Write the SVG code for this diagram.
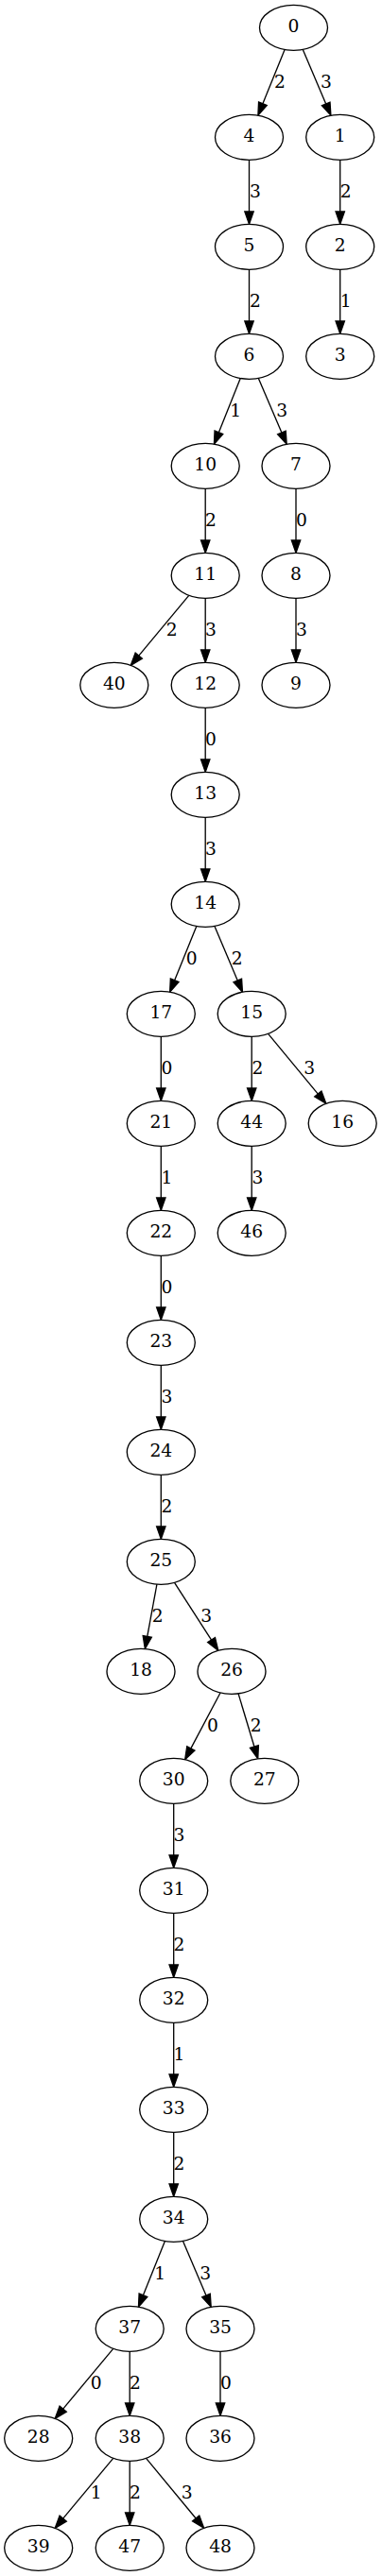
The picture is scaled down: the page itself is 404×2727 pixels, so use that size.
<svg xmlns="http://www.w3.org/2000/svg" width="404" height="2727" viewBox="0 0 404 2727">
<style>
.node ellipse{fill:#fff;stroke:#000;stroke-width:1.33}
text{font-family:"DejaVu Serif","Liberation Serif",serif;font-size:18.67px;text-anchor:middle;fill:#000}
.edges line{stroke:#000;stroke-width:1.33;marker-end:url(#arr)}
</style>
<defs>
<marker id="arr" markerUnits="userSpaceOnUse" orient="auto" refX="0" refY="0" markerWidth="16" markerHeight="12" overflow="visible">
<path d="M0,-4.67 L13.33,0 L0,4.67 Z" fill="#000" stroke="#000" stroke-width="1.33"/>
</marker>
</defs>
<rect width="404" height="2727" fill="#fff"/>
<g class="edges" id="edges">
<line x1="301.11" y1="52.50" x2="277.90" y2="109.81"/>
<line x1="320.30" y1="52.42" x2="344.70" y2="109.97"/>
<line x1="263.5" y1="169.33" x2="263.5" y2="224"/>
<line x1="359.7" y1="169.33" x2="359.7" y2="224"/>
<line x1="263.5" y1="285.33" x2="263.5" y2="340"/>
<line x1="359.7" y1="285.33" x2="359.7" y2="340"/>
<line x1="254.24" y1="400.52" x2="231.40" y2="457.76"/>
<line x1="273.35" y1="400.41" x2="297.92" y2="457.99"/>
<line x1="217.2" y1="517.33" x2="217.2" y2="572"/>
<line x1="313" y1="517.33" x2="313" y2="572"/>
<line x1="199.75" y1="630.32" x2="146.77" y2="694.09"/>
<line x1="217.2" y1="633.33" x2="217.2" y2="688"/>
<line x1="313" y1="633.33" x2="313" y2="688"/>
<line x1="217.2" y1="749.33" x2="217.2" y2="804"/>
<line x1="217.2" y1="865.33" x2="217.2" y2="920"/>
<line x1="207.83" y1="980.50" x2="184.67" y2="1037.80"/>
<line x1="226.96" y1="980.43" x2="251.25" y2="1037.95"/>
<line x1="170.3" y1="1097.33" x2="170.3" y2="1152"/>
<line x1="266.2" y1="1097.33" x2="266.2" y2="1152"/>
<line x1="283.59" y1="1094.34" x2="336.31" y2="1158.05"/>
<line x1="170.3" y1="1213.33" x2="170.3" y2="1268"/>
<line x1="266.2" y1="1213.33" x2="266.2" y2="1268"/>
<line x1="170.3" y1="1329.33" x2="170.3" y2="1384"/>
<line x1="170.3" y1="1445.33" x2="170.3" y2="1500"/>
<line x1="170.3" y1="1561.33" x2="170.3" y2="1616"/>
<line x1="165.93" y1="1677.15" x2="155.78" y2="1732.40"/>
<line x1="184.50" y1="1675.38" x2="223.58" y2="1736.07"/>
<line x1="233.04" y1="1791.97" x2="201.89" y2="1850.91"/>
<line x1="252.06" y1="1792.86" x2="268.91" y2="1849.03"/>
<line x1="183.7" y1="1909.33" x2="183.7" y2="1964"/>
<line x1="183.7" y1="2025.33" x2="183.7" y2="2080"/>
<line x1="183.7" y1="2141.33" x2="183.7" y2="2196"/>
<line x1="183.7" y1="2257.33" x2="183.7" y2="2312"/>
<line x1="174.41" y1="2372.52" x2="151.45" y2="2429.77"/>
<line x1="193.51" y1="2372.42" x2="217.98" y2="2429.97"/>
<line x1="119.74" y1="2486.32" x2="66.69" y2="2550.09"/>
<line x1="137.2" y1="2489.33" x2="137.2" y2="2544"/>
<line x1="233" y1="2489.33" x2="233" y2="2544"/>
<line x1="119.74" y1="2602.32" x2="66.69" y2="2666.09"/>
<line x1="137.2" y1="2605.33" x2="137.2" y2="2660"/>
<line x1="154.56" y1="2602.35" x2="207.15" y2="2666.03"/>
<g id="edge-labels">
<text x="296" y="92.6">2</text>
<text x="345" y="92.6">3</text>
<text x="270" y="208.6">3</text>
<text x="365.7" y="208.6">2</text>
<text x="270" y="324.6">2</text>
<text x="365.7" y="324.6">1</text>
<text x="249.3" y="440.6">1</text>
<text x="298.3" y="440.6">3</text>
<text x="223" y="556.6">2</text>
<text x="319" y="556.6">0</text>
<text x="181.7" y="672.6">2</text>
<text x="223" y="672.6">3</text>
<text x="319" y="672.6">3</text>
<text x="223" y="788.6">0</text>
<text x="223" y="904.6">3</text>
<text x="202.7" y="1020.6">0</text>
<text x="250.7" y="1020.6">2</text>
<text x="176.5" y="1136.6">0</text>
<text x="272.5" y="1136.6">2</text>
<text x="327.3" y="1136.6">3</text>
<text x="176.5" y="1252.6">1</text>
<text x="272.5" y="1252.6">3</text>
<text x="176.5" y="1368.6">0</text>
<text x="176.5" y="1484.6">3</text>
<text x="176.5" y="1600.6">2</text>
<text x="166.7" y="1716.6">2</text>
<text x="218.3" y="1716.6">3</text>
<text x="225" y="1832.6">0</text>
<text x="270.7" y="1832.6">2</text>
<text x="189.5" y="1948.6">3</text>
<text x="189.5" y="2064.6">2</text>
<text x="189.5" y="2180.6">1</text>
<text x="189.5" y="2296.6">2</text>
<text x="169.3" y="2412.6">1</text>
<text x="217.3" y="2412.6">3</text>
<text x="101.7" y="2528.6">0</text>
<text x="143" y="2528.6">2</text>
<text x="239" y="2528.6">0</text>
<text x="101.7" y="2644.6">1</text>
<text x="143" y="2644.6">2</text>
<text x="197.7" y="2644.6">3</text>
</g>
</g>
<g id="n0" class="node"><ellipse cx="310.5" cy="29.33" rx="36" ry="24"/><text x="310.5" y="34.33">0</text></g>
<g id="n4" class="node"><ellipse cx="263.5" cy="145.33" rx="36" ry="24"/><text x="263.5" y="150.33">4</text></g>
<g id="n1" class="node"><ellipse cx="359.7" cy="145.33" rx="36" ry="24"/><text x="359.7" y="150.33">1</text></g>
<g id="n5" class="node"><ellipse cx="263.5" cy="261.33" rx="36" ry="24"/><text x="263.5" y="266.33">5</text></g>
<g id="n2" class="node"><ellipse cx="359.7" cy="261.33" rx="36" ry="24"/><text x="359.7" y="266.33">2</text></g>
<g id="n6" class="node"><ellipse cx="263.5" cy="377.33" rx="36" ry="24"/><text x="263.5" y="382.33">6</text></g>
<g id="n3" class="node"><ellipse cx="359.7" cy="377.33" rx="36" ry="24"/><text x="359.7" y="382.33">3</text></g>
<g id="n10" class="node"><ellipse cx="217.2" cy="493.33" rx="36" ry="24"/><text x="217.2" y="498.33">10</text></g>
<g id="n7" class="node"><ellipse cx="313" cy="493.33" rx="36" ry="24"/><text x="313" y="498.33">7</text></g>
<g id="n11" class="node"><ellipse cx="217.2" cy="609.33" rx="36" ry="24"/><text x="217.2" y="614.33">11</text></g>
<g id="n8" class="node"><ellipse cx="313" cy="609.33" rx="36" ry="24"/><text x="313" y="614.33">8</text></g>
<g id="n40" class="node"><ellipse cx="120.8" cy="725.33" rx="36" ry="24"/><text x="120.8" y="730.33">40</text></g>
<g id="n12" class="node"><ellipse cx="217.2" cy="725.33" rx="36" ry="24"/><text x="217.2" y="730.33">12</text></g>
<g id="n9" class="node"><ellipse cx="313" cy="725.33" rx="36" ry="24"/><text x="313" y="730.33">9</text></g>
<g id="n13" class="node"><ellipse cx="217.2" cy="841.33" rx="36" ry="24"/><text x="217.2" y="846.33">13</text></g>
<g id="n14" class="node"><ellipse cx="217.2" cy="957.33" rx="36" ry="24"/><text x="217.2" y="962.33">14</text></g>
<g id="n17" class="node"><ellipse cx="170.3" cy="1073.33" rx="36" ry="24"/><text x="170.3" y="1078.33">17</text></g>
<g id="n15" class="node"><ellipse cx="266.2" cy="1073.33" rx="36" ry="24"/><text x="266.2" y="1078.33">15</text></g>
<g id="n21" class="node"><ellipse cx="170.3" cy="1189.33" rx="36" ry="24"/><text x="170.3" y="1194.33">21</text></g>
<g id="n44" class="node"><ellipse cx="266.2" cy="1189.33" rx="36" ry="24"/><text x="266.2" y="1194.33">44</text></g>
<g id="n16" class="node"><ellipse cx="362.2" cy="1189.33" rx="36" ry="24"/><text x="362.2" y="1194.33">16</text></g>
<g id="n22" class="node"><ellipse cx="170.3" cy="1305.33" rx="36" ry="24"/><text x="170.3" y="1310.33">22</text></g>
<g id="n46" class="node"><ellipse cx="266.2" cy="1305.33" rx="36" ry="24"/><text x="266.2" y="1310.33">46</text></g>
<g id="n23" class="node"><ellipse cx="170.3" cy="1421.33" rx="36" ry="24"/><text x="170.3" y="1426.33">23</text></g>
<g id="n24" class="node"><ellipse cx="170.3" cy="1537.33" rx="36" ry="24"/><text x="170.3" y="1542.33">24</text></g>
<g id="n25" class="node"><ellipse cx="170.3" cy="1653.33" rx="36" ry="24"/><text x="170.3" y="1658.33">25</text></g>
<g id="n18" class="node"><ellipse cx="149" cy="1769.33" rx="36" ry="24"/><text x="149" y="1774.33">18</text></g>
<g id="n26" class="node"><ellipse cx="245" cy="1769.33" rx="36" ry="24"/><text x="245" y="1774.33">26</text></g>
<g id="n30" class="node"><ellipse cx="183.7" cy="1885.33" rx="36" ry="24"/><text x="183.7" y="1890.33">30</text></g>
<g id="n27" class="node"><ellipse cx="279.8" cy="1885.33" rx="36" ry="24"/><text x="279.8" y="1890.33">27</text></g>
<g id="n31" class="node"><ellipse cx="183.7" cy="2001.33" rx="36" ry="24"/><text x="183.7" y="2006.33">31</text></g>
<g id="n32" class="node"><ellipse cx="183.7" cy="2117.33" rx="36" ry="24"/><text x="183.7" y="2122.33">32</text></g>
<g id="n33" class="node"><ellipse cx="183.7" cy="2233.33" rx="36" ry="24"/><text x="183.7" y="2238.33">33</text></g>
<g id="n34" class="node"><ellipse cx="183.7" cy="2349.33" rx="36" ry="24"/><text x="183.7" y="2354.33">34</text></g>
<g id="n37" class="node"><ellipse cx="137.2" cy="2465.33" rx="36" ry="24"/><text x="137.2" y="2470.33">37</text></g>
<g id="n35" class="node"><ellipse cx="233" cy="2465.33" rx="36" ry="24"/><text x="233" y="2470.33">35</text></g>
<g id="n28" class="node"><ellipse cx="40.7" cy="2581.33" rx="36" ry="24"/><text x="40.7" y="2586.33">28</text></g>
<g id="n38" class="node"><ellipse cx="137.2" cy="2581.33" rx="36" ry="24"/><text x="137.2" y="2586.33">38</text></g>
<g id="n36" class="node"><ellipse cx="233" cy="2581.33" rx="36" ry="24"/><text x="233" y="2586.33">36</text></g>
<g id="n39" class="node"><ellipse cx="40.7" cy="2697.33" rx="36" ry="24"/><text x="40.7" y="2702.33">39</text></g>
<g id="n47" class="node"><ellipse cx="137.2" cy="2697.33" rx="36" ry="24"/><text x="137.2" y="2702.33">47</text></g>
<g id="n48" class="node"><ellipse cx="233" cy="2697.33" rx="36" ry="24"/><text x="233" y="2702.33">48</text></g>
</svg>
